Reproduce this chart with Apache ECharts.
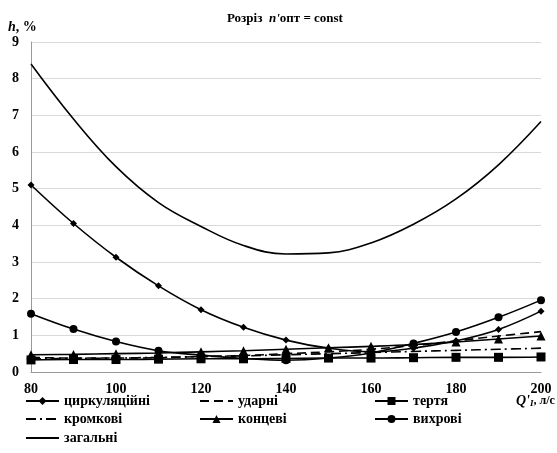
<!DOCTYPE html>
<html><head><meta charset="utf-8">
<script src="https://cdn.jsdelivr.net/npm/echarts@6/dist/echarts.min.js"></script>
<style>html,body{margin:0;padding:0;background:#fff}#c{width:557px;height:453px}</style>
</head><body><div id="c"></div>
<script>
const Q = [80, 90, 100, 110, 120, 130, 140, 150, 160, 170, 180, 190, 200];
const circulation = [5.1, 4.05, 3.13, 2.35, 1.7, 1.22, 0.87, 0.65, 0.55, 0.65, 0.85, 1.16, 1.66];
const shock = [0.4, 0.38, 0.38, 0.39, 0.42, 0.45, 0.5, 0.55, 0.62, 0.72, 0.85, 0.98, 1.1];
const friction = [0.33, 0.34, 0.34, 0.35, 0.36, 0.36, 0.37, 0.38, 0.38, 0.39, 0.4, 0.4, 0.41];
const edge = [0.36, 0.37, 0.38, 0.4, 0.42, 0.44, 0.47, 0.5, 0.53, 0.56, 0.59, 0.62, 0.65];
const endLoss = [0.47, 0.48, 0.5, 0.52, 0.55, 0.58, 0.62, 0.66, 0.7, 0.75, 0.82, 0.9, 0.98];
const vortex = [1.59, 1.17, 0.83, 0.58, 0.46, 0.37, 0.32, 0.38, 0.52, 0.78, 1.09, 1.49, 1.96];
const total = [8.4, 6.9, 5.6, 4.62, 3.97, 3.45, 3.22, 3.25, 3.52, 4.03, 4.72, 5.65, 6.83];
const xTicks = {min: 80, max: 200, interval: 20};
const yTicks = {min: 0, max: 9, interval: 1};

const pairs = arr => Q.map((q, i) => [q, arr[i]]);
const FONT = '"Liberation Serif", "Times New Roman", serif';
const chart = echarts.init(document.getElementById('c'), null, {renderer: 'canvas'});
function ser(name, data, symbol, size, type) {
  return {
    name, type: 'line', data: pairs(data), smooth: 0.4,
    symbol: symbol, symbolSize: size, showSymbol: symbol !== 'none',
    itemStyle: {color: '#000'},
    lineStyle: {color: '#000', width: 1.6, type: type || 'solid'},
    emphasis: {disabled: true}, z: 3
  };
}
const legendText = {fontFamily: FONT, fontWeight: 'bold', fontSize: 14, color: '#000'};
const noMarker = ['ударні', 'кромкові', 'загальні'];
function leg(name, left, top) {
  const item = {name: name};
  if (noMarker.includes(name)) item.itemStyle = {opacity: 0};
  return {data: [item], left: left, top: top, itemWidth: 33, itemHeight: 10,
          textStyle: legendText, selectedMode: false, padding: 0};
}
chart.setOption({
  animation: false,
  grid: {left: 31, right: 16, top: 42, bottom: 81},
  title: {
    text: '{b|Розріз  }{i|n\'}{b|опт = const}',
    left: 222, top: 7,
    textStyle: {rich: {
      b: {fontFamily: FONT, fontWeight: 'bold', fontSize: 13, color: '#000'},
      i: {fontFamily: FONT, fontWeight: 'bold', fontStyle: 'italic', fontSize: 13, color: '#000'}
    }}
  },
  xAxis: {
    type: 'value', min: xTicks.min, max: xTicks.max, interval: xTicks.interval,
    axisLine: {show: true, lineStyle: {color: '#999', width: 1}},
    axisTick: {show: false},
    splitLine: {show: false},
    axisLabel: {fontFamily: FONT, fontWeight: 'bold', fontSize: 14, color: '#000', margin: 10}
  },
  yAxis: {
    type: 'value', min: yTicks.min, max: yTicks.max, interval: yTicks.interval,
    axisLine: {show: true, lineStyle: {color: '#999', width: 1}},
    axisTick: {show: false},
    splitLine: {show: true, lineStyle: {color: '#d9d9d9', width: 1}},
    axisLabel: {fontFamily: FONT, fontWeight: 'bold', fontSize: 14, color: '#000', margin: 12}
  },
  legend: [
    leg('циркуляційні', 25, 394),
    leg('кромкові', 25, 412),
    leg('загальні', 25, 431),
    leg('ударні', 199, 394),
    leg('концеві', 199, 412),
    leg('тертя', 374, 394),
    leg('вихрові', 374, 412)
  ],
  graphic: [
    {type: 'text', left: 8, top: 20, style: {
      text: '{i|h}{b|, %}',
      rich: {i: {fontFamily: FONT, fontWeight: 'bold', fontStyle: 'italic', fontSize: 14, fill: '#000'},
             b: {fontFamily: FONT, fontWeight: 'bold', fontSize: 14, fill: '#000'}}}},
    {type: 'text', left: 516, top: 394, style: {
      text: '{i|Q\'}{s|I}{b|, л/с}',
      rich: {i: {fontFamily: FONT, fontWeight: 'bold', fontStyle: 'italic', fontSize: 14, fill: '#000'},
             s: {fontFamily: FONT, fontWeight: 'bold', fontStyle: 'italic', fontSize: 9, fill: '#000', verticalAlign: 'bottom', padding: [5, 0, 0, 0]},
             b: {fontFamily: FONT, fontWeight: 'bold', fontSize: 12, fill: '#000'}}}}
  ],
  series: [
    ser('циркуляційні', circulation, 'diamond', 7),
    ser('ударні', shock, 'none', 0, [9, 5]),
    ser('тертя', friction, 'rect', 9),
    ser('кромкові', edge, 'none', 0, [10, 4, 2, 4]),
    ser('концеві', endLoss, 'triangle', 9),
    ser('вихрові', vortex, 'circle', 8),
    ser('загальні', total, 'none', 0)
  ]
});
</script></body></html>
